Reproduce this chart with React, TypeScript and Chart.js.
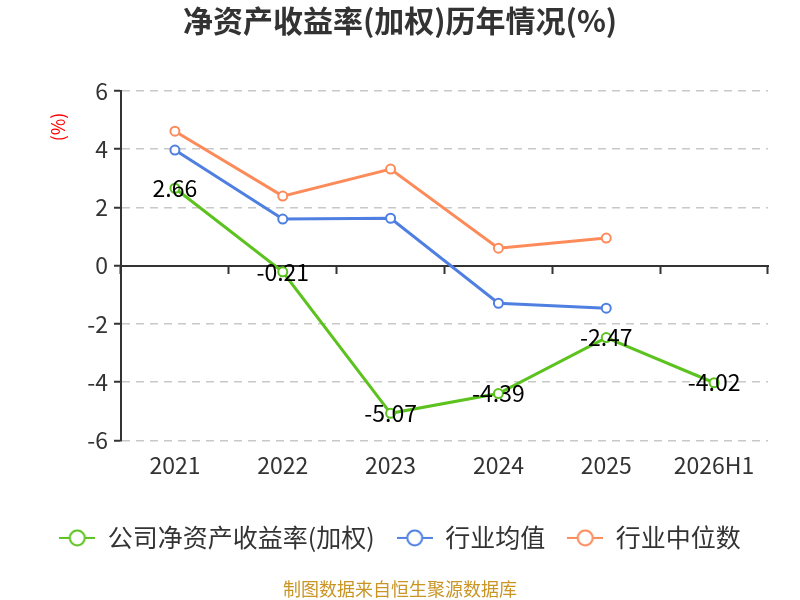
import { useEffect, useRef } from "react";
import { Chart, registerables } from "chart.js";

Chart.register(...registerables);

const categories = ["2021", "2022", "2023", "2024", "2025", "2026H1"];
const companyRoe = [2.66, -0.21, -5.07, -4.39, -2.47, -4.02];
const industryAvg = [3.97, 1.6, 1.63, -1.29, -1.46, null];
const industryMedian = [4.62, 2.39, 3.32, 0.6, 0.95, null];
const seriesNames = ["公司净资产收益率(加权)", "行业均值", "行业中位数"];
const seriesColors = ["#5bc21e", "#4f80e1", "#fd8b5a"];
const yUnit = "(%)";

const FONT = "'Noto Sans CJK SC', 'Noto Sans', sans-serif";

// legend marker: short line with a hollow circle in the middle
function legendMarker(color: string) {
  const c = document.createElement("canvas");
  c.width = 36;
  c.height = 18;
  const g = c.getContext("2d")!;
  g.strokeStyle = color;
  g.lineWidth = 2;
  g.beginPath();
  g.moveTo(0, 9);
  g.lineTo(36, 9);
  g.stroke();
  g.beginPath();
  g.arc(18, 9, 7.5, 0, Math.PI * 2);
  g.fillStyle = "#fff";
  g.fill();
  g.stroke();
  return c;
}

const valueLabels = {
  id: "valueLabels",
  afterDatasetsDraw(chart: Chart) {
    const ctx = chart.ctx;
    const meta = chart.getDatasetMeta(0);
    ctx.save();
    ctx.font = `23px ${FONT}`;
    ctx.fillStyle = "#000";
    ctx.textAlign = "center";
    ctx.textBaseline = "middle";
    meta.data.forEach((el: any, i: number) => {
      ctx.fillText(companyRoe[i].toFixed(2), el.x, el.y);
    });
    ctx.restore();
  },
};

// red unit text rotated beside the y axis, near its top
const unitLabel = {
  id: "unitLabel",
  afterDraw(chart: Chart) {
    const ctx = chart.ctx;
    ctx.save();
    ctx.translate(58, chart.chartArea.top + 36);
    ctx.rotate(-Math.PI / 2);
    ctx.font = `18px ${FONT}`;
    ctx.fillStyle = "#ff0000";
    ctx.textAlign = "center";
    ctx.textBaseline = "middle";
    ctx.fillText(yUnit, 0, 0);
    ctx.restore();
  },
};

export default function App() {
  const chartRef = useRef<HTMLCanvasElement>(null);

  useEffect(() => {
    document.body.style.margin = "0";
    if (!chartRef.current) return;
    const datasets = [companyRoe, industryAvg, industryMedian].map((d, i) => ({
      label: seriesNames[i],
      data: d,
      borderColor: seriesColors[i],
      backgroundColor: "#fff",
      pointBackgroundColor: "#fff",
      pointBorderColor: seriesColors[i],
      pointBorderWidth: 2,
      pointRadius: 4.5,
      borderWidth: 3,
      tension: 0,
      xAxisID: "x",
    }));

    const chart = new Chart(chartRef.current, {
      type: "line",
      data: { labels: categories, datasets },
      plugins: [valueLabels, unitLabel],
      options: {
        responsive: false,
        animation: false,
        devicePixelRatio: 1,
        layout: { padding: { left: 32, right: 32, top: 0, bottom: 0 } },
        plugins: {
          tooltip: { enabled: false },
          title: {
            display: true,
            text: "净资产收益率(加权)历年情况(%)",
            color: "#333",
            font: { family: FONT, size: 30, weight: "bold" },
            padding: { top: 3, bottom: 52 },
          },
          subtitle: {
            display: true,
            position: "bottom",
            text: "制图数据来自恒生聚源数据库",
            color: "#c99524",
            font: { family: FONT, size: 18 },
            padding: { top: 18, bottom: 0 },
          },
          legend: {
            position: "bottom",
            labels: {
              usePointStyle: true,
              pointStyleWidth: 36,
              color: "#333",
              font: { family: FONT, size: 25 },
              padding: 22,
              generateLabels: (c: Chart) =>
                c.data.datasets.map((ds: any, i: number) => ({
                  text: ds.label,
                  datasetIndex: i,
                  pointStyle: legendMarker(seriesColors[i]),
                  fillStyle: "#fff",
                  strokeStyle: seriesColors[i],
                  fontColor: "#333",
                  hidden: false,
                })),
            },
          },
        },
        scales: {
          x: {
            type: "category",
            position: "bottom",
            offset: true,
            afterFit: (s: any) => {
              s.height = 63;
            },
            border: { display: false },
            grid: { display: false },
            ticks: {
              color: "#333",
              font: { family: FONT, size: 23 },
              padding: 3,
            },
          },
          xZero: {
            type: "category",
            position: { y: 0 },
            offset: true,
            labels: categories,
            border: { display: true, color: "#333", width: 2 },
            grid: {
              offset: true,
              drawOnChartArea: false,
              drawTicks: true,
              tickLength: 7,
              tickColor: "#333",
              tickWidth: 2,
            },
            ticks: { display: false },
          },
          y: {
            min: -6,
            max: 6,
            afterFit: (s: any) => {
              s.width = 89;
            },
            border: { display: true, color: "#333", width: 2, dash: [8, 6] },
            grid: {
              color: (c: any) => (c.tick && c.tick.value === 0 ? "rgba(0,0,0,0)" : "#c8c8c8"),
              lineWidth: 1.5,
              drawTicks: true,
              tickLength: 7,
              tickColor: "#333",
              tickWidth: 2,
              tickBorderDash: [0, 0],
            },
            ticks: {
              stepSize: 2,
              color: "#333",
              font: { family: FONT, size: 23 },
              padding: 6,
            },
          },
        },
      } as any,
    });

    return () => {
      chart.destroy();
    };
  }, []);

  return (
    <div style={{ width: 800, height: 600, background: "#fff" }}>
      <canvas ref={chartRef} width={800} height={600} />
    </div>
  );
}
